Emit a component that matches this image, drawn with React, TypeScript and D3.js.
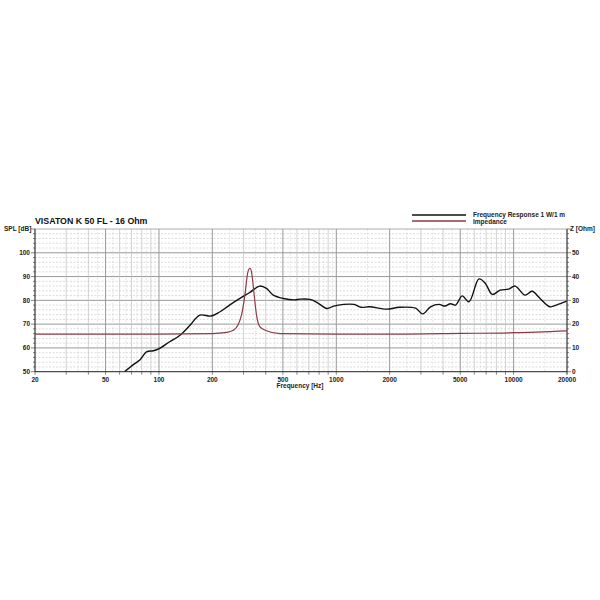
import React, { useEffect, useRef } from 'react';
import * as d3 from 'd3';

// Frequency response 1 W/1 m [Hz, dB]
const splFreq = [64, 72, 78, 85, 93, 99, 115, 128, 135, 150, 170, 197, 220, 250, 286, 325, 370, 404, 441, 502, 583, 623, 710, 776, 886, 966, 1100, 1260, 1380, 1540, 1920, 2270, 2800, 3070, 3400, 3800, 4100, 4400, 4700, 5130, 5600, 6380, 6930, 7580, 8400, 9360, 10200, 11600, 12700, 14100, 16000, 17800, 19900];
const splDb = [50, 53.1, 54.9, 58.3, 58.8, 59.5, 62.6, 64.7, 66.1, 69.6, 73.8, 73.4, 75.1, 78, 80.8, 83.3, 86, 85, 82.2, 80.8, 80.2, 80.5, 80.4, 79.2, 76.6, 77.6, 78.3, 78.3, 77.1, 77.3, 76.3, 77.1, 76.7, 74.3, 77.3, 78.3, 77.6, 78.6, 78, 81.9, 79.4, 89, 87.1, 82.5, 84.3, 84.7, 86, 82.2, 83.8, 80.8, 77.3, 78.3, 79.7];

// Impedance [Hz, Ohm]
const zFreq = [20, 100, 200, 240, 261, 279, 292, 305, 317, 326, 333, 343, 355, 370, 404, 480, 1000, 2000, 5000, 10000, 20000];
const zOhm = [15.8, 15.8, 16, 16.5, 17.3, 19.6, 23.8, 32, 41.8, 43.5, 41.8, 33.5, 23.8, 19, 17.2, 16, 15.8, 15.8, 16.1, 16.4, 17.2];

const xTicks = [20, 50, 100, 200, 500, 1000, 2000, 5000, 10000, 20000];
const yTicks = [50, 60, 70, 80, 90, 100];
const zTicks = [0, 10, 20, 30, 40, 50];

const App = () => {
  const svgRef = useRef<SVGSVGElement>(null);

  useEffect(() => {
    const svg = d3.select(svgRef.current);
    svg.selectAll('*').remove();

    const left = 35, right = 567, top = 229, bottom = 371.7;
    const font = 'Liberation Sans, Arial, sans-serif';

    const x = d3.scaleLog().domain([20, 20000]).range([left, right]);
    const y = d3.scaleLinear().domain([50, 110]).range([bottom, top]);
    const yz = d3.scaleLinear().domain([0, 60]).range([bottom, top]);

    svg.append('rect').attr('width', 600).attr('height', 600).attr('fill', '#fff');

    const grid = svg.append('g');

    // horizontal grid
    for (let v = 52; v < 110; v += 2) {
      const major = v % 10 === 0;
      grid.append('line')
        .attr('x1', left).attr('x2', right)
        .attr('y1', y(v)).attr('y2', y(v))
        .attr('stroke', major ? '#999' : '#c4c4c4')
        .attr('stroke-width', major ? 1 : 0.6)
        .attr('stroke-dasharray', major ? null : '2,1.5');
    }

    // vertical grid
    const decades = [10, 100, 1000, 10000];
    decades.forEach(d => {
      for (let m = 1; m < 10; m++) {
        const f = d * m;
        if (f <= 20 || f >= 20000) continue;
        const main = m === 1 || m === 2 || m === 5;
        grid.append('line')
          .attr('x1', x(f)).attr('x2', x(f))
          .attr('y1', top).attr('y2', bottom)
          .attr('stroke', main ? '#999' : '#c0c0c0')
          .attr('stroke-width', main ? 1 : 0.7);
        // fine dashed subdivisions
        const f2 = f + d / 2;
        if (f2 < 20000 && f2 > 20) {
          grid.append('line')
            .attr('x1', x(f2)).attr('x2', x(f2))
            .attr('y1', top).attr('y2', bottom)
            .attr('stroke', '#cccccc')
            .attr('stroke-width', 0.5)
            .attr('stroke-dasharray', '2,1.5');
        }
      }
    });

    // frame
    svg.append('rect')
      .attr('x', left).attr('y', top)
      .attr('width', right - left).attr('height', bottom - top)
      .attr('fill', 'none').attr('stroke', '#999').attr('stroke-width', 0.8);

    // axis lines with ticks
    svg.append('line').attr('x1', left).attr('x2', left).attr('y1', top).attr('y2', bottom).attr('stroke', '#333');
    svg.append('line').attr('x1', right).attr('x2', right).attr('y1', top).attr('y2', bottom).attr('stroke', '#333');
    svg.append('line').attr('x1', left).attr('x2', right).attr('y1', bottom).attr('y2', bottom).attr('stroke', '#333');
    for (let v = 50; v <= 110; v += 2) {
      const len = v % 10 === 0 ? 4 : 2;
      svg.append('line').attr('x1', left - len).attr('x2', left).attr('y1', y(v)).attr('y2', y(v)).attr('stroke', '#333').attr('stroke-width', 0.6);
      svg.append('line').attr('x1', right).attr('x2', right + len).attr('y1', y(v)).attr('y2', y(v)).attr('stroke', '#333').attr('stroke-width', 0.6);
    }
    decades.forEach(d => {
      for (let m = 1; m < 10; m++) {
        const f = d * m;
        if (f < 20 || f > 20000) continue;
        svg.append('line').attr('x1', x(f)).attr('x2', x(f)).attr('y1', bottom).attr('y2', bottom + 3).attr('stroke', '#333').attr('stroke-width', 0.6);
      }
    });
    svg.append('line').attr('x1', x(20000)).attr('x2', x(20000)).attr('y1', bottom).attr('y2', bottom + 3).attr('stroke', '#333').attr('stroke-width', 0.6);

    // tick labels
    const lbl = svg.append('g')
      .attr('font-family', font).attr('font-size', 6.5).attr('font-weight', 'bold').attr('fill', '#222');
    xTicks.forEach(t => {
      lbl.append('text').attr('x', x(t)).attr('y', bottom + 10).attr('text-anchor', 'middle').text(t);
    });
    yTicks.forEach(t => {
      lbl.append('text').attr('x', left - 5).attr('y', y(t) + 2.3).attr('text-anchor', 'end').text(t);
    });
    zTicks.forEach(t => {
      lbl.append('text').attr('x', right + 5).attr('y', yz(t) + 2.3).attr('text-anchor', 'start').text(t);
    });
    lbl.append('text').attr('x', 4).attr('y', top + 2).text('SPL [dB]');
    lbl.append('text').attr('x', right + 3).attr('y', top + 2).text('Z [Ohm]');
    lbl.append('text').attr('x', 300).attr('y', bottom + 16.5).attr('text-anchor', 'middle').text('Frequency [Hz]');

    // title
    svg.append('text')
      .attr('x', left).attr('y', 224)
      .attr('font-family', font).attr('font-size', 8.8).attr('font-weight', 'bold').attr('fill', '#111')
      .text('VISATON K 50 FL - 16 Ohm');

    // legend
    const leg = svg.append('g').attr('font-family', font).attr('font-size', 6.5).attr('font-weight', 'bold').attr('fill', '#222');
    leg.append('line').attr('x1', 412).attr('x2', 466).attr('y1', 215).attr('y2', 215).attr('stroke', '#111').attr('stroke-width', 1.3);
    leg.append('line').attr('x1', 412).attr('x2', 466).attr('y1', 221).attr('y2', 221).attr('stroke', '#8b3a48').attr('stroke-width', 1.3);
    leg.append('text').attr('x', 473).attr('y', 217).text('Frequency Response 1 W/1 m');
    leg.append('text').attr('x', 473).attr('y', 223.5).text('Impedance');

    // curves
    const clip = svg.append('clipPath').attr('id', 'plotclip');
    clip.append('rect').attr('x', left).attr('y', top).attr('width', right - left).attr('height', bottom - top);

    const splLine = d3.line<number>()
      .x((_, i) => x(splFreq[i]))
      .y(d => y(d))
      .curve(d3.curveCatmullRom.alpha(0.5));
    svg.append('path')
      .attr('clip-path', 'url(#plotclip)')
      .attr('d', splLine(splDb))
      .attr('fill', 'none').attr('stroke', '#111').attr('stroke-width', 1.4);

    const zLine = d3.line<number>()
      .x((_, i) => x(zFreq[i]))
      .y(d => yz(d))
      .curve(d3.curveMonotoneX);
    svg.append('path')
      .attr('clip-path', 'url(#plotclip)')
      .attr('d', zLine(zOhm))
      .attr('fill', 'none').attr('stroke', '#8b3a48').attr('stroke-width', 1.2);
  }, []);

  return (
    <div style={{ position: 'absolute', left: 0, top: 0 }}>
      <svg ref={svgRef} width={600} height={600} style={{ display: 'block' }}></svg>
    </div>
  );
};

export default App;
